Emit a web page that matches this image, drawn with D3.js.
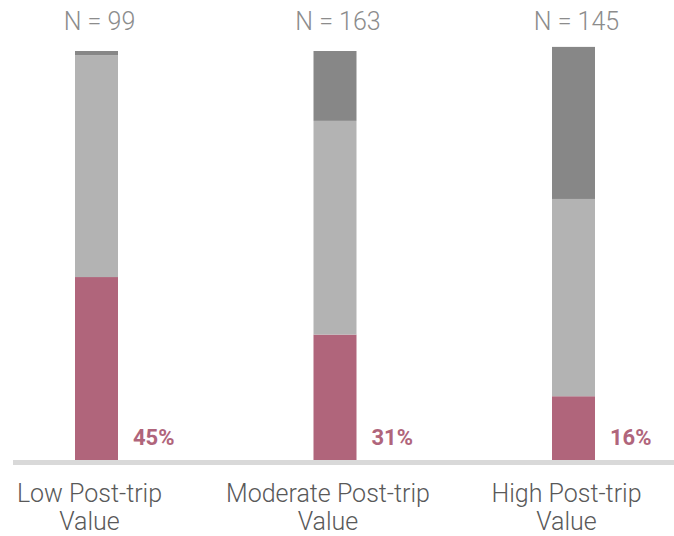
<!DOCTYPE html>
<html>
<head>
<meta charset="utf-8">
<script src="https://cdn.jsdelivr.net/npm/d3@7"></script>
<style>
  body { margin: 0; background: #fff; }
  text { font-family: "Roboto", sans-serif; }
</style>
</head>
<body>
<svg id="chart" width="674" height="536"></svg>
<script>
// data
const categories = ["Low Post-trip Value", "Moderate Post-trip Value", "High Post-trip Value"];
const categoryLines = [["Low Post-trip", "Value"], ["Moderate Post-trip", "Value"], ["High Post-trip", "Value"]];
const sampleSizes = [99, 163, 145];
const lowShare = [45, 31, 16];      // pink, bottom
const midShare = [54, 52, 48];      // light gray
const topShare = [1, 17, 37];       // dark gray

const width = 674;
const baseY = 462;

const svg = d3.select("#chart");

const x = d3.scalePoint()
  .domain(categories)
  .range([96.5, 573.5]);

const y = d3.scaleLinear()
  .domain([0, 100])
  .range([baseY, 51]);

const barW = 43;

const rows = categories.map((c, i) => ({
  cat: c, n: sampleSizes[i], low: lowShare[i], mid: midShare[i], top: topShare[i]
}));

const series = d3.stack().keys(["low", "mid", "top"])(rows);
const colors = { low: "#b0657b", mid: "#b3b3b3", top: "#878787" };

svg.append("g")
  .selectAll("g")
  .data(series)
  .join("g")
  .attr("fill", d => colors[d.key])
  .selectAll("rect")
  .data(d => d)
  .join("rect")
  .attr("x", d => x(d.data.cat) - barW / 2)
  .attr("y", d => y(d[1]))
  .attr("width", barW)
  .attr("height", d => y(d[0]) - y(d[1]));

// baseline
svg.append("line")
  .attr("x1", 13).attr("x2", width)
  .attr("y1", baseY + 0.5).attr("y2", baseY + 0.5)
  .attr("stroke", "#d9d9d9")
  .attr("stroke-width", 5);

// N labels
svg.selectAll(".nlab")
  .data(rows)
  .join("text")
  .attr("class", "nlab")
  .attr("x", d => x(d.cat) + 3)
  .attr("y", 30)
  .attr("text-anchor", "middle")
  .attr("font-size", 25)
  .attr("font-weight", 300)
  .attr("fill", "#8c8c8c")
  .text(d => `N = ${d.n}`);

// percent labels
svg.selectAll(".plab")
  .data(rows)
  .join("text")
  .attr("class", "plab")
  .attr("x", d => x(d.cat) + barW / 2 + 15)
  .attr("y", 445)
  .attr("font-size", 22)
  .attr("font-weight", "bold")
  .attr("fill", "#b0657b")
  .text(d => `${d.low}%`);

// category labels
const cl = svg.selectAll(".clab")
  .data(categories)
  .join("text")
  .attr("class", "clab")
  .attr("text-anchor", "middle")
  .attr("font-size", 25)
  .attr("font-weight", 300)
  .attr("fill", "#595959");

cl.selectAll("tspan")
  .data((d, i) => categoryLines[i].map(t => ({ t, cx: x(d) - 7 })))
  .join("tspan")
  .attr("x", d => d.cx)
  .attr("y", (d, j) => 502 + j * 28)
  .text(d => d.t);
</script>
</body>
</html>
